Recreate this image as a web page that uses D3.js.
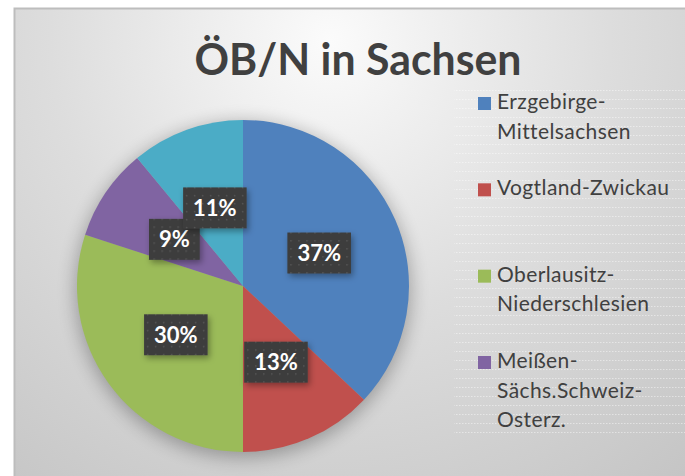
<!DOCTYPE html>
<html>
<head>
<meta charset="utf-8">
<title>ÖB/N in Sachsen</title>
<script src="https://d3js.org/d3.v7.min.js"></script>
<style>
  html, body { margin: 0; padding: 0; background: #fff; }
  svg { display: block; }
  text { font-family: Lato, "Open Sans", sans-serif; }
</style>
</head>
<body>
<svg id="chart" width="685" height="476"></svg>
<script>
// data
const categories = ["Erzgebirge-Mittelsachsen", "Vogtland-Zwickau", "Oberlausitz-Niederschlesien",
                    "Meißen-Sächs.Schweiz-Osterz.", "Leipziger Raum"];
const values = [37, 13, 30, 9, 11];
const colors = ["#4f81bd", "#c0504d", "#9bbb59", "#8064a2", "#4bacc6"];
// legend text as it wraps in the picture (5th entry is cut off by the legend box)
const legendLines = [["Erzgebirge-", "Mittelsachsen"], ["Vogtland-Zwickau"],
                     ["Oberlausitz-", "Niederschlesien"], ["Meißen-", "Sächs.Schweiz-", "Osterz."]];
const title = "ÖB/N in Sachsen";

const W = 685, H = 476;
const svg = d3.select("#chart");
const defs = svg.append("defs");

// background gradient
const bg = defs.append("radialGradient").attr("id", "bg")
  .attr("gradientUnits", "userSpaceOnUse")
  .attr("cx", 330).attr("cy", 40).attr("r", 560);
bg.append("stop").attr("offset", "0%").attr("stop-color", "#fbfbfb");
bg.append("stop").attr("offset", "50%").attr("stop-color", "#dddddd");
bg.append("stop").attr("offset", "100%").attr("stop-color", "#c5c5c5");

// faint texture on the legend box
const tex = defs.append("pattern").attr("id", "tex")
  .attr("patternUnits", "userSpaceOnUse").attr("width", 3).attr("height", 9);
tex.append("rect").attr("width", 1.5).attr("height", 1).attr("fill", "#fff").attr("opacity", 0.45);

// dotted fill for the label boxes
const dots = defs.append("pattern").attr("id", "dots")
  .attr("patternUnits", "userSpaceOnUse").attr("width", 8).attr("height", 8);
dots.append("rect").attr("width", 8).attr("height", 8).attr("fill", "#3d3d3d");
dots.append("rect").attr("x", 3).attr("y", 3).attr("width", 1.5).attr("height", 1.5).attr("fill", "#555");

const pieShadow = defs.append("filter").attr("id", "pieShadow")
  .attr("x", "-30%").attr("y", "-30%").attr("width", "160%").attr("height", "160%");
pieShadow.append("feGaussianBlur").attr("stdDeviation", 9);

const boxShadow = defs.append("filter").attr("id", "boxShadow")
  .attr("x", "-30%").attr("y", "-30%").attr("width", "160%").attr("height", "160%");
boxShadow.append("feDropShadow").attr("dx", 2).attr("dy", 3).attr("stdDeviation", 3)
  .attr("flood-color", "#000").attr("flood-opacity", 0.35);

// chart area
svg.append("rect").attr("x", 14).attr("y", 8).attr("width", W).attr("height", H)
  .attr("fill", "url(#bg)");
svg.append("path").attr("d", `M14.5,${H}V8.5H${W}`)
  .attr("fill", "none").attr("stroke", "#bdbdbd").attr("stroke-width", 2);

// title
svg.append("text").attr("x", 358).attr("y", 75)
  .attr("text-anchor", "middle")
  .attr("font-size", 44).attr("font-weight", "bold").attr("fill", "#404040")
  .attr("textLength", 327).attr("lengthAdjust", "spacingAndGlyphs")
  .text(title);

// legend box
svg.append("rect").attr("x", 454).attr("y", 87).attr("width", W - 454).attr("height", 348)
  .attr("fill", "url(#tex)");

// pie
const cx = 243, cy = 286, R = 166;
const pie = d3.pie().sort(null).value(d => d);
const arcs = pie(values);
const arc = d3.arc().innerRadius(0).outerRadius(R);

const g = svg.append("g").attr("transform", `translate(${cx},${cy})`);
g.append("circle").attr("cx", 0).attr("cy", 4).attr("r", R + 2)
  .attr("fill", "#000").attr("opacity", 0.28).attr("filter", "url(#pieShadow)");
g.selectAll("path.slice").data(arcs).join("path")
  .attr("class", "slice")
  .attr("d", arc)
  .attr("fill", (d, i) => colors[i]);

// data labels
const labels = g.selectAll("g.lbl").data(arcs).join("g")
  .attr("class", "lbl")
  .attr("transform", d => `translate(${arc.centroid(d)})`);
labels.each(function(d) {
  const sel = d3.select(this);
  const t = sel.append("text")
    .attr("text-anchor", "middle").attr("dy", "0.36em")
    .attr("font-size", 22).attr("font-weight", "bold").attr("fill", "#fff")
    .text(d.data + "%");
  const w = t.node().getComputedTextLength() + 20, h = 41;
  sel.insert("rect", "text")
    .attr("x", -w / 2).attr("y", -h / 2).attr("width", w).attr("height", h)
    .attr("fill", "url(#dots)").attr("filter", "url(#boxShadow)");
});

// legend
const ly = d3.scaleLinear().domain([0, 3]).range([109, 368]);
const lineH = 29.5;
const leg = svg.append("g").selectAll("g").data(legendLines).join("g")
  .attr("transform", (d, i) => `translate(478,${ly(i)})`);
leg.append("rect").attr("x", 0).attr("y", -12).attr("width", 13).attr("height", 13)
  .attr("fill", (d, i) => colors[i]);
leg.each(function(lines) {
  const t = d3.select(this).append("text")
    .attr("x", 19).attr("y", 0)
    .attr("font-size", 21).attr("letter-spacing", 0.4).attr("fill", "#404040");
  lines.forEach((s, j) => t.append("tspan").attr("x", 19).attr("dy", j ? lineH : 0).text(s));
});
</script>
</body>
</html>
